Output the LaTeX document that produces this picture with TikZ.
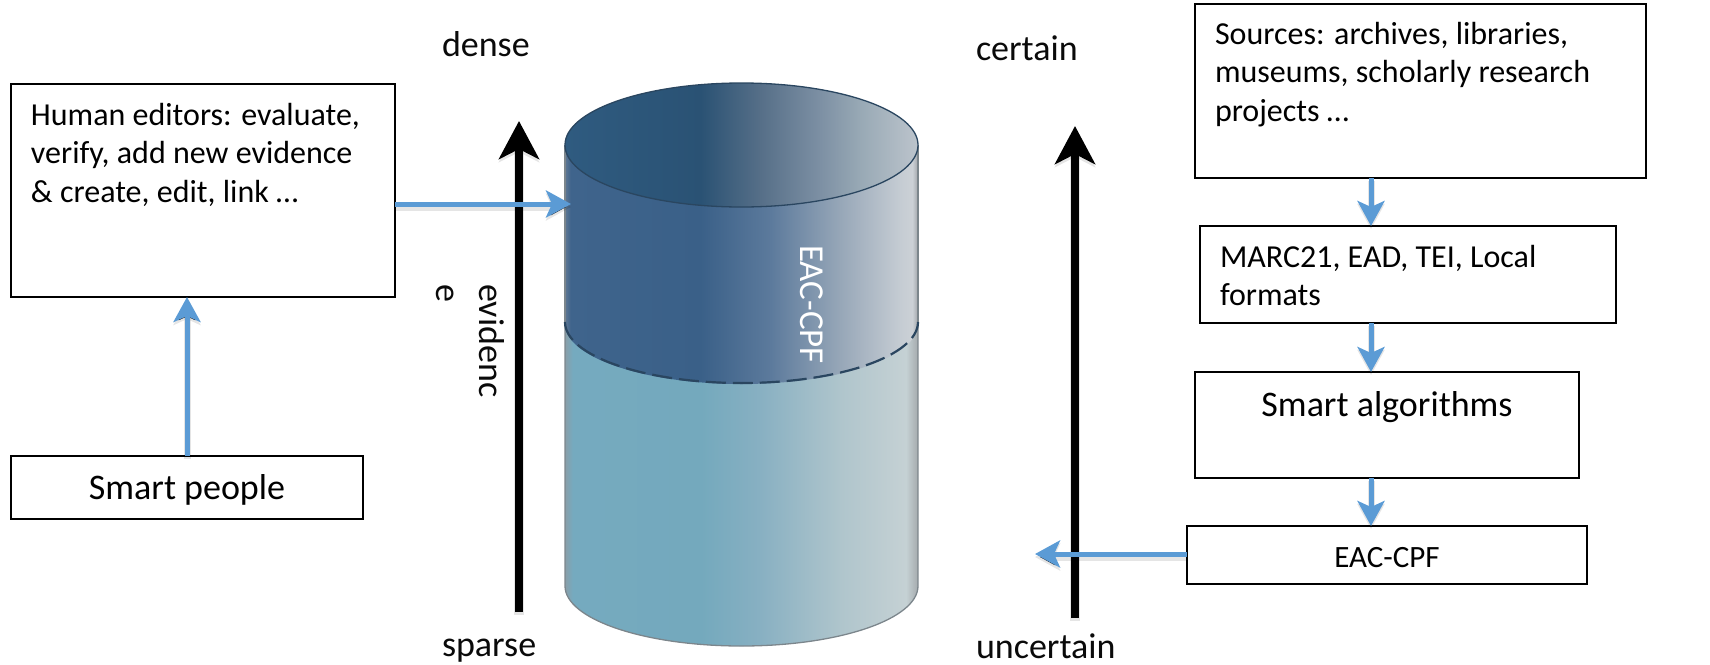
\documentclass[tikz,border=0pt]{standalone}
\usepackage{fontspec}
\setmainfont{Carlito}
\usetikzlibrary{arrows.meta,calc}
\definecolor{flowblue}{HTML}{5B9BD5}
\definecolor{ink}{HTML}{0A0A0A}
\definecolor{rimdark}{HTML}{2A4660}
\definecolor{rimgray}{HTML}{7C868C}
\definecolor{ta}{HTML}{2F5B80}\definecolor{tb}{HTML}{2A5274}\definecolor{tc}{HTML}{566F88}\definecolor{td}{HTML}{7D90A4}\definecolor{te}{HTML}{98A9B5}\definecolor{tf}{HTML}{BCC4CC}
\definecolor{ua}{HTML}{5F7893}\definecolor{ub}{HTML}{3F648C}\definecolor{uc}{HTML}{3A6088}\definecolor{ud}{HTML}{5C7A9C}\definecolor{ue}{HTML}{97A7B8}\definecolor{uf}{HTML}{C5CCD3}\definecolor{ug}{HTML}{CCD1D6}\definecolor{uh}{HTML}{A0A4A8}
\definecolor{la}{HTML}{8A9EA8}\definecolor{lb}{HTML}{75AABF}\definecolor{lc}{HTML}{74A9BD}\definecolor{ld}{HTML}{88B0C2}\definecolor{le}{HTML}{AFC5CC}\definecolor{lf}{HTML}{C5D1D4}\definecolor{lg}{HTML}{A5AAAD}
\pgfdeclarehorizontalshading{cyltop}{100bp}{color(0bp)=(ta);color(25bp)=(ta);color(44.2bp)=(tb);color(52.7bp)=(tc);color(61.2bp)=(td);color(66.8bp)=(te);color(75bp)=(tf);color(100bp)=(tf)}
\pgfdeclarehorizontalshading{cylupper}{100bp}{color(0bp)=(ua);color(25bp)=(ua);color(25.8bp)=(ub);color(44.2bp)=(uc);color(54.1bp)=(ud);color(64bp)=(ue);color(72.5bp)=(uf);color(74.2bp)=(ug);color(75bp)=(uh);color(100bp)=(uh)}
\pgfdeclarehorizontalshading{cyllower}{100bp}{color(0bp)=(la);color(25bp)=(la);color(26.1bp)=(lb);color(44.2bp)=(lc);color(52.7bp)=(ld);color(64bp)=(le);color(73.3bp)=(lf);color(75bp)=(lg);color(100bp)=(lg)}
\newcommand\boxc[5]{\parbox[c][#2pt][t]{#1pt}{\fontsize{#4}{38.5}\selectfont\centering\vspace*{#3pt}\strut #5\par}}
\tikzset{
 framebox/.style={draw=black,line width=2.5pt,fill=white,inner sep=0pt,outer sep=0pt,anchor=north west},
 freetext/.style={inner sep=0pt,outer sep=0pt,anchor=base west,text=ink,font=\fontsize{36}{38.5}\selectfont},
 flow/.style={draw=flowblue,line width=5pt,-{Stealth[length=25pt,width=27pt,inset=6pt]},
   preaction={draw=black,draw opacity=.10,line width=7pt,-{Stealth[length=25pt,width=27pt,inset=6pt]},transform canvas={shift={(0pt,-3pt)}}}},
 axisarrow/.style={draw=black,line width=8pt,-{Stealth[length=38pt,width=40pt,inset=10pt]},
   preaction={draw=black,draw opacity=.10,line width=10pt,-{Stealth[length=38pt,width=40pt,inset=10pt]},transform canvas={shift={(0pt,-3pt)}}}},
 rim/.style={draw=#1,line width=1.3pt}
}
\begin{document}
\begin{tikzpicture}[x=1pt,y=-1pt]
\useasboundingbox (0,0) rectangle (1710,664);
% cylinder
\path[shading=cyllower,rim=rimgray] (565,324) -- (565,586) arc[start angle=180,end angle=0,x radius=176.5,y radius=60] -- (918,324) -- cycle;
\path[shading=cylupper] (565,145) -- (565,324) arc[start angle=180,end angle=0,x radius=176.5,y radius=60] -- (918,145) -- cycle;
\draw[rim=rimgray] (565,145) -- (565,324) (918,145) -- (918,324);
\path[shading=cyltop] (741.5,145) ellipse[x radius=176.5,y radius=62];
\draw[line width=1.3pt,draw=rimdark] (741.5,145) ellipse[x radius=176.5,y radius=62];
\draw[line width=2.2pt,draw=rimdark,dash pattern=on 20pt off 7pt] (565,322) arc[start angle=180,end angle=0,x radius=176.5,y radius=61];
\node[freetext,text=white,rotate=-90,font=\fontsize{35}{38.5}\selectfont] (cyllabel) at (800,245) {EAC-CPF};
% axis arrows
\coordinate (denseTip) at (519,121);
\coordinate (denseEnd) at (519,612);
\coordinate (certainTip) at (1075,126);
\coordinate (certainEnd) at (1075,618);
\draw[axisarrow] (denseEnd) -- (denseTip);
\draw[axisarrow] (certainEnd) -- (certainTip);
% free labels
\node[freetext] (dense) at (442,56) {dense};
\node[freetext] (sparse) at (442,656) {sparse};
\node[freetext] (certain) at (976,60) {certain};
\node[freetext] (uncertain) at (976,658) {uncertain};
\node[freetext,rotate=-90] (evid1) at (479,284) {evidenc};
\node[freetext,rotate=-90] (evid2) at (436,284) {e};
% boxes
\node[framebox] (editors) at (11,84) {\parbox[c][213pt][t]{384pt}{\fontsize{32}{38.5}\selectfont\raggedright\leftskip=20pt\relax\vspace*{14.05pt}\strut Human editors: evaluate,\\\strut verify, add new evidence\\\strut \& create, edit, link …\par}};
\node[framebox] (people) at (11,456) {\boxc{352}{63}{16.05}{36}{Smart people}};
\node[framebox] (sources) at (1195,4) {\parbox[c][174pt][t]{451pt}{\fontsize{32}{38.5}\selectfont\raggedright\leftskip=20pt\relax\vspace*{13.05pt}\strut Sources: archives, libraries,\\\strut museums, scholarly research\\\strut projects …\par}};
\node[framebox] (formats) at (1200,226) {\parbox[c][97pt][t]{416pt}{\fontsize{32}{38}\selectfont\raggedright\leftskip=20pt\relax\vspace*{14.4pt}\strut MARC21, EAD, TEI, Local\\\strut formats\par}};
\node[framebox] (algos) at (1195,372) {\boxc{384}{106}{17.05}{36}{Smart algorithms}};
\node[framebox] (eac) at (1187,526) {\boxc{400}{58}{14.05}{31}{EAC-CPF}};
% connectors
\coordinate (flowx) at (1371,0);
\coordinate (cylport) at (571,204);
\coordinate (leftport) at (1035,554);
\draw[flow] (people.north) -- (people.north |- editors.south);
\draw[flow] (cylport -| editors.east) -- (cylport);
\draw[flow] (flowx |- sources.south) -- (flowx |- formats.north);
\draw[flow] (flowx |- formats.south) -- (flowx |- algos.north);
\draw[flow] (flowx |- algos.south) -- (flowx |- eac.north);
\draw[flow] (leftport -| eac.west) -- (leftport);
\end{tikzpicture}
\end{document}
